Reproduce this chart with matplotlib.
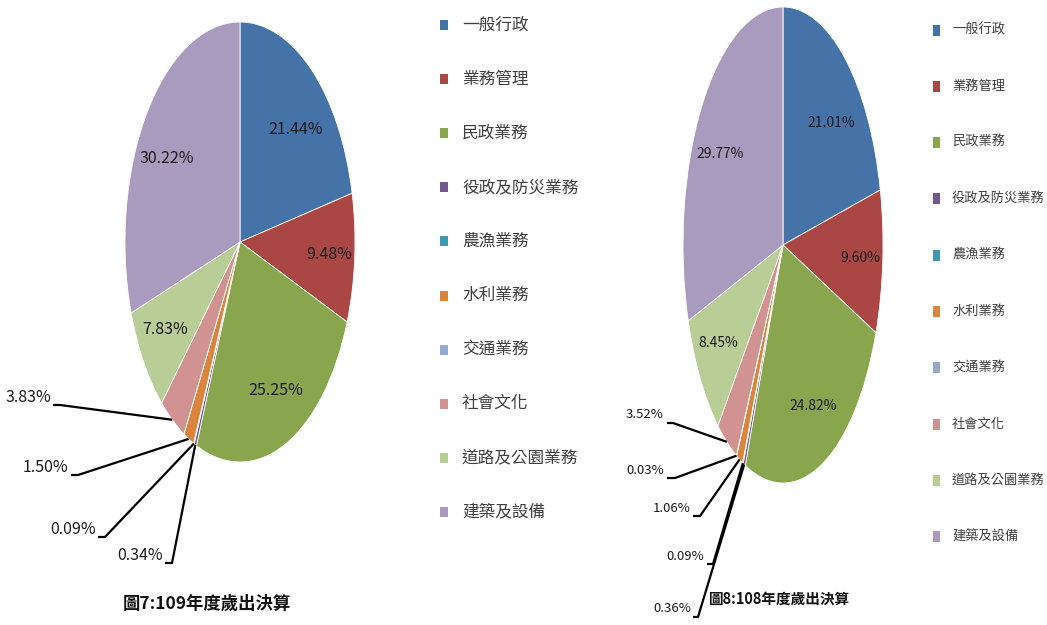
import numpy as np
import matplotlib
matplotlib.use('Agg')
import matplotlib.pyplot as plt
from matplotlib.patches import Rectangle

plt.rcParams['font.family'] = ['Noto Sans CJK TC', 'DejaVu Sans']

# categories and values (percent)
categories = ['一般行政', '業務管理', '民政業務', '役政及防災業務', '農漁業務',
              '水利業務', '交通業務', '社會文化', '道路及公園業務', '建築及設備']
values_109 = [21.44, 9.48, 25.25, 0.34, 0.09, 1.50, 0.00, 3.83, 7.83, 30.22]
values_108 = [21.01, 9.60, 24.82, 0.36, 0.09, 1.06, 0.03, 3.52, 8.45, 29.77]
title_109 = '圖7:109年度歲出決算'
title_108 = '圖8:108年度歲出決算'

colors = ['#4572A7', '#AA4643', '#89A54E', '#71588F', '#4198AF',
          '#DB843D', '#93A9CF', '#D19392', '#B9CD96', '#A99BBD']

W, H = 1047, 625
fig = plt.figure(figsize=(W / 100, H / 100), dpi=100)

# pixel-based axes for legend and titles
base = fig.add_axes([0, 0, 1, 1])
base.set_xlim(0, W)
base.set_ylim(H, 0)
base.axis('off')


def draw_pie(values, cx, cy, rx, ry, inner_fs, outer, outer_fs):
    # full-figure axes scaled so the unit circle becomes the stretched ellipse
    ax = fig.add_axes([0, 0, 1, 1], zorder=1)
    ax.patch.set_alpha(0)
    wedges, _ = ax.pie(values, colors=colors, startangle=90, counterclock=False,
                       radius=1.0, wedgeprops=dict(edgecolor='white', linewidth=0.6))
    ax.set_aspect('auto')
    ax.set_xlim(-cx / rx, (W - cx) / rx)
    ax.set_ylim((cy - H) / ry, cy / ry)
    ax.axis('off')

    def to_data(px, py):
        return (px - cx) / rx, (cy - py) / ry

    for w, v in zip(wedges, values):
        mid = np.deg2rad((w.theta1 + w.theta2) / 2)
        if v >= 5:
            lx = 0.78 * np.cos(mid)
            ly = 0.78 * np.sin(mid)
            ly *= 0.84 if ly > 0 else 0.94
            ax.text(lx, ly, f'{v:.2f}%', ha='center', va='center',
                    fontsize=inner_fs, color='#1a1a1a')

    # outside labels with leader lines
    for idx, (tx, ty, sx0, sx1, sy) in outer.items():
        w = wedges[idx]
        mid = np.deg2rad((w.theta1 + w.theta2) / 2)
        ex, ey = np.cos(mid), np.sin(mid)
        a = to_data(sx0, sy)
        b = to_data(sx1, sy)
        ax.plot([a[0], b[0], ex], [a[1], b[1], ey], color='black', lw=1.6,
                solid_capstyle='butt', clip_on=False)
        p = to_data(tx, ty)
        ax.text(p[0], p[1], f'{values[idx]:.2f}%', ha='right', va='center',
                fontsize=outer_fs, color='#1a1a1a')


# label layout: index -> (text right x, text center y, seg x0, seg x1, seg y)
outer_109 = {
    7: (51, 398, 53, 60, 405),
    5: (68, 468, 71, 78, 475),
    4: (96, 530, 98, 105, 537),
    3: (163, 555, 165, 172, 563),
}
outer_108 = {
    7: (664, 415, 667, 673, 423),
    6: (664, 470, 667, 675, 478),
    5: (691, 508, 693, 700, 516),
    4: (704, 557, 707, 713, 564),
    3: (691, 608, 693, 698, 617),
}

draw_pie(values_109, 240, 242, 115, 220, 11.5, outer_109, 11.5)
draw_pie(values_108, 783, 245, 100, 238, 10, outer_108, 9.5)


def draw_legend(mx, tx, y0, step, fs, mw, mh):
    for i, (cat, col) in enumerate(zip(categories, colors)):
        y = y0 + i * step
        base.add_patch(Rectangle((mx, y - mh / 2), mw, mh, facecolor=col,
                                 edgecolor='none'))
        base.text(tx, y, cat, ha='left', va='center', fontsize=fs, color='#404040')


draw_legend(440, 462, 25, 54.1, 12, 8, 10)
draw_legend(933, 952, 30, 56.3, 9.5, 7, 11)

base.text(207, 604, title_109, ha='center', va='center', fontsize=12.5,
          fontweight='bold', color='#111111')
base.text(780, 599, title_108, ha='center', va='center', fontsize=10.5,
          fontweight='bold', color='#111111')

plt.savefig('out.png', dpi=100)
